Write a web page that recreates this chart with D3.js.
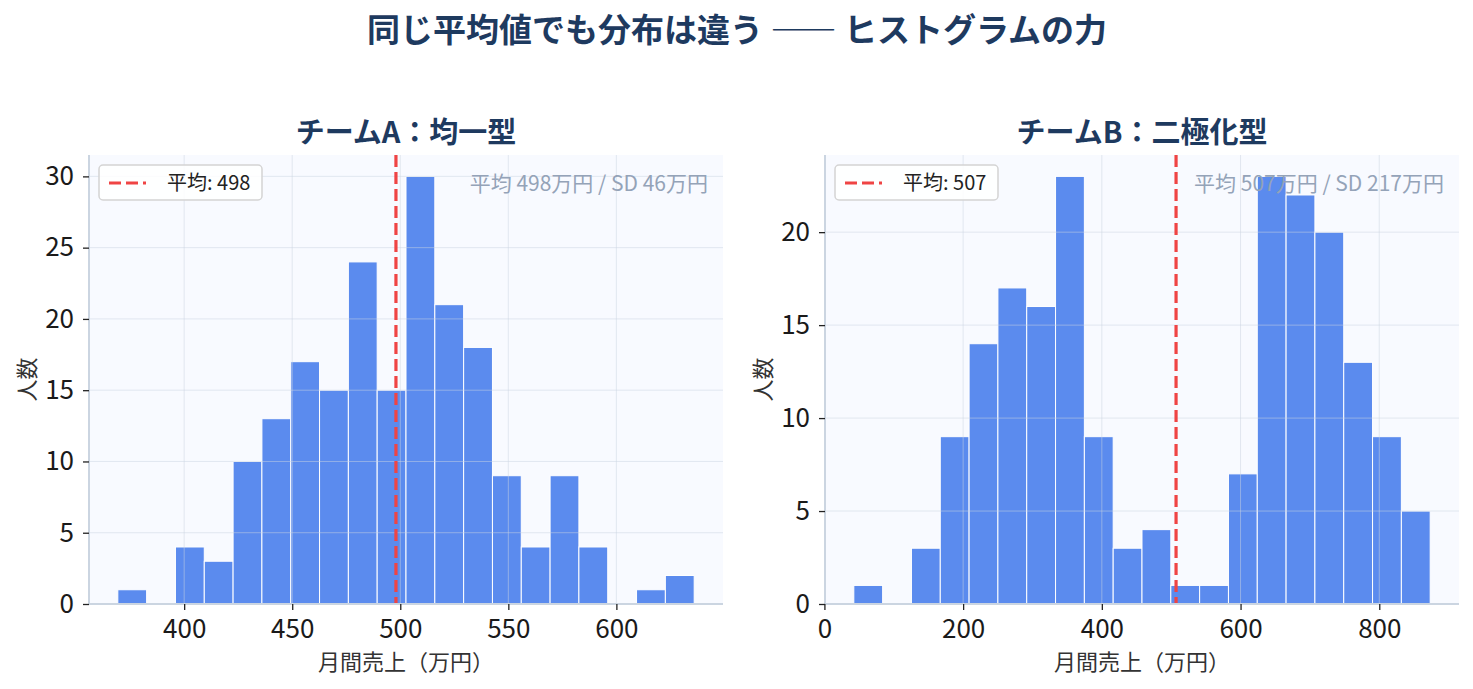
<!DOCTYPE html>
<html lang="ja">
<head>
	<meta charset="UTF-8">
	<script src="https://d3js.org/d3.v7.min.js"></script>
	<style>
		body{ margin:0; background:#ffffff; }
		text{ font-family:"Noto Sans CJK JP","Noto Sans",sans-serif; }
	</style>
</head>
<body>
	<script type="text/javascript">
		// データ
		var titleMain = "同じ平均値でも分布は違う —— ヒストグラムの力";
		var titleA = "チームA：均一型";
		var titleB = "チームB：二極化型";
		var countsA = [1, 0, 4, 3, 10, 13, 17, 15, 24, 15, 30, 21, 18, 9, 4, 9, 4, 0, 1, 2];
		var rangeA = [369.3, 636.0];
		var countsB = [1, 0, 3, 9, 14, 17, 16, 23, 9, 3, 4, 1, 1, 7, 23, 22, 20, 13, 9, 5];
		var rangeB = [42.4, 873.4];
		var meanA = 498, sdA = 46;
		var meanB = 507, sdB = 217;
		var xTicksA = [400, 450, 500, 550, 600];
		var yTicksA = [0, 5, 10, 15, 20, 25, 30];
		var xTicksB = [0, 200, 400, 600, 800];
		var yTicksB = [0, 5, 10, 15, 20];

		var W = 1473, H = 689;
		var svg = d3.select("body").append("svg").attr("width", W).attr("height", H);

		svg.append("text").attr("x", 737).attr("y", 42).attr("text-anchor", "middle")
			.style("font-size", "33px").style("font-weight", "bold").attr("fill", "#1e3a5f").text(titleMain);

		function panel(left, right, title, counts, range, mean, sd, xTicks, yTicks){
			var top = 155, bottom = 604;
			var n = counts.length;
			var bw = (range[1] - range[0]) / n;
			var bins = counts.map(function(c, i){ return {x0: range[0] + i*bw, x1: range[0] + (i+1)*bw, c: c}; });
			var pad = (range[1] - range[0]) * 0.05;
			var ymax = d3.max(counts) * 1.05;
			var x = d3.scaleLinear().domain([range[0]-pad, range[1]+pad]).range([left, right]);
			var y = d3.scaleLinear().domain([0, ymax]).range([bottom, top]);

			var g = svg.append("g");
			g.append("rect").attr("x", left).attr("y", top).attr("width", right-left).attr("height", bottom-top).attr("fill", "#f8faff");

			// 棒
			g.selectAll(".bar").data(bins).enter().append("rect").attr("class", "bar")
				.attr("x", function(d){ return x(d.x0); })
				.attr("width", function(d){ return x(d.x1) - x(d.x0); })
				.attr("y", function(d){ return y(d.c); })
				.attr("height", function(d){ return bottom - y(d.c); })
				.attr("fill", "#5b8bee").attr("stroke", "#ffffff").attr("stroke-width", 1);

			// グリッド
			g.selectAll(".gx").data(xTicks.filter(function(t){ return x(t) > left+1; })).enter().append("line")
				.attr("x1", function(d){ return x(d); }).attr("x2", function(d){ return x(d); })
				.attr("y1", top).attr("y2", bottom).attr("stroke", "#cbd5e1").attr("stroke-opacity", 0.5).attr("stroke-width", 1);
			g.selectAll(".gy").data(yTicks.filter(function(t){ return t > 0; })).enter().append("line")
				.attr("y1", function(d){ return y(d); }).attr("y2", function(d){ return y(d); })
				.attr("x1", left).attr("x2", right).attr("stroke", "#cbd5e1").attr("stroke-opacity", 0.5).attr("stroke-width", 1);

			// 平均線
			g.append("line").attr("x1", x(mean)).attr("x2", x(mean)).attr("y1", top).attr("y2", bottom)
				.attr("stroke", "#ef4444").attr("stroke-width", 3.2).attr("stroke-dasharray", "12,5");

			// 軸
			var xAxis = d3.axisBottom(x).tickValues(xTicks).tickSize(6).tickPadding(10);
			var yAxis = d3.axisLeft(y).tickValues(yTicks).tickSize(6).tickPadding(9);
			var gx = g.append("g").attr("transform", "translate(0," + bottom + ")").call(xAxis);
			var gy = g.append("g").attr("transform", "translate(" + left + ",0)").call(yAxis);
			[gx, gy].forEach(function(a){
				a.select(".domain").attr("stroke", "#cbd5e1").attr("stroke-width", 2);
				a.selectAll(".tick line").attr("stroke", "#222222").attr("stroke-width", 1.3);
				a.selectAll(".tick text").attr("fill", "#1a1a1a").style("font-size", "26px")
					.style("font-family", "'Noto Sans CJK JP', sans-serif");
			});
			gx.select(".domain").attr("d", "M" + left + ",0H" + right);
			gy.select(".domain").attr("d", "M0," + bottom + "V" + top);

			// タイトル・ラベル
			svg.append("text").attr("x", (left+right)/2).attr("y", 143).attr("text-anchor", "middle")
				.style("font-size", "29px").style("font-weight", "bold").attr("fill", "#1e3a5f").text(title);
			svg.append("text").attr("x", (left+right)/2).attr("y", 670).attr("text-anchor", "middle")
				.style("font-size", "22px").attr("fill", "#333333").text("月間売上（万円）");
			svg.append("text").attr("transform", "translate(" + (left-54) + "," + ((top+bottom)/2) + ") rotate(-90)")
				.attr("text-anchor", "middle").style("font-size", "22px").attr("fill", "#333333").text("人数");

			// 凡例
			var lg = svg.append("g").attr("transform", "translate(" + (left+10) + "," + (top+10) + ")");
			lg.append("rect").attr("width", 163).attr("height", 35).attr("rx", 4)
				.attr("fill", "#ffffff").attr("fill-opacity", 0.85).attr("stroke", "#d4d4d4").attr("stroke-width", 1.5);
			lg.append("line").attr("x1", 10).attr("x2", 47).attr("y1", 18).attr("y2", 18)
				.attr("stroke", "#ef4444").attr("stroke-width", 3).attr("stroke-dasharray", "12,5");
			lg.append("text").attr("x", 68).attr("y", 25).style("font-size", "20px").attr("fill", "#222222")
				.text("平均: " + mean);

			// 注記
			svg.append("text").attr("x", right-15).attr("y", top+36).attr("text-anchor", "end")
				.style("font-size", "21px").attr("fill", "#94a3b8")
				.text("平均 " + mean + "万円 / SD " + sd + "万円");
		}

		panel(89, 723, titleA, countsA, rangeA, meanA, sdA, xTicksA, yTicksA);
		panel(825, 1459, titleB, countsB, rangeB, meanB, sdB, xTicksB, yTicksB);
	</script>
</body>
</html>
